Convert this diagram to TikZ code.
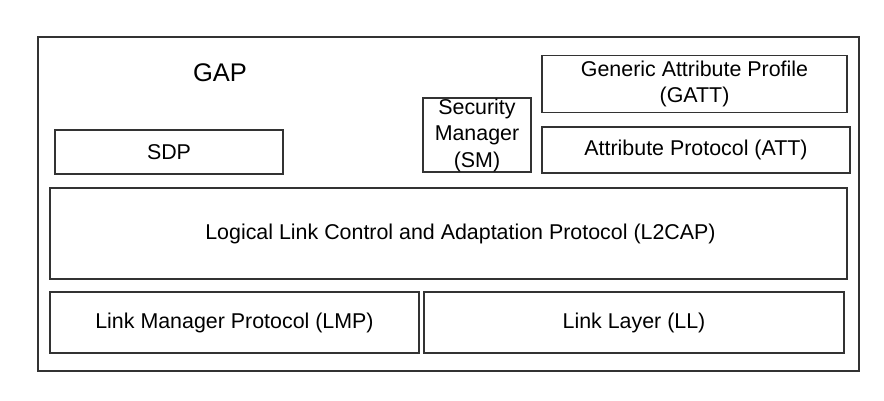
\documentclass[tikz,border=0pt]{standalone}
\usepackage{fontspec}
\setmainfont{Liberation Sans}

\begin{document}
\begin{tikzpicture}[
    x=1pt, y=-1pt,
    layer/.style={draw=black!80, line width=1.3pt, inner sep=0pt, align=center,
        font=\fontsize{21.4}{26.5}\selectfont},
]
    \useasboundingbox (0,0) rectangle (884,401);

    % 外框 GAP
    \node[layer, minimum width=821, minimum height=334] (gapbox) at (448.5,204) {};
    \node[font=\fontsize{25.5}{30}\selectfont] (gap) at (220,73) {GAP};

    % 上层
    \node[layer, minimum width=228, minimum height=44] (sdp) at (169,152) {SDP};
    \node[layer, minimum width=108, minimum height=74] (sm) at (477,135) {Security\\Manager\\(SM)};
    \node[layer, minimum width=305, minimum height=57] (gatt) at (694.5,84) {Generic Attribute Profile\\(GATT)};
    \node[layer, minimum width=308, minimum height=46] (att) at (696,150) {Attribute Protocol (ATT)};

    % L2CAP
    \node[layer, minimum width=797, minimum height=91] (l2cap) at (448.5,233.5) {};
    \node[layer, draw=none] (l2captext) at ([xshift=12]l2cap.center) {Logical Link Control and Adaptation Protocol (L2CAP)};

    % 底层
    \node[layer, minimum width=369, minimum height=61] (lmp) at (234.5,322.5) {Link Manager Protocol (LMP)};
    \node[layer, minimum width=420, minimum height=61] (ll) at (634,322.5) {Link Layer (LL)};

\end{tikzpicture}
\end{document}
